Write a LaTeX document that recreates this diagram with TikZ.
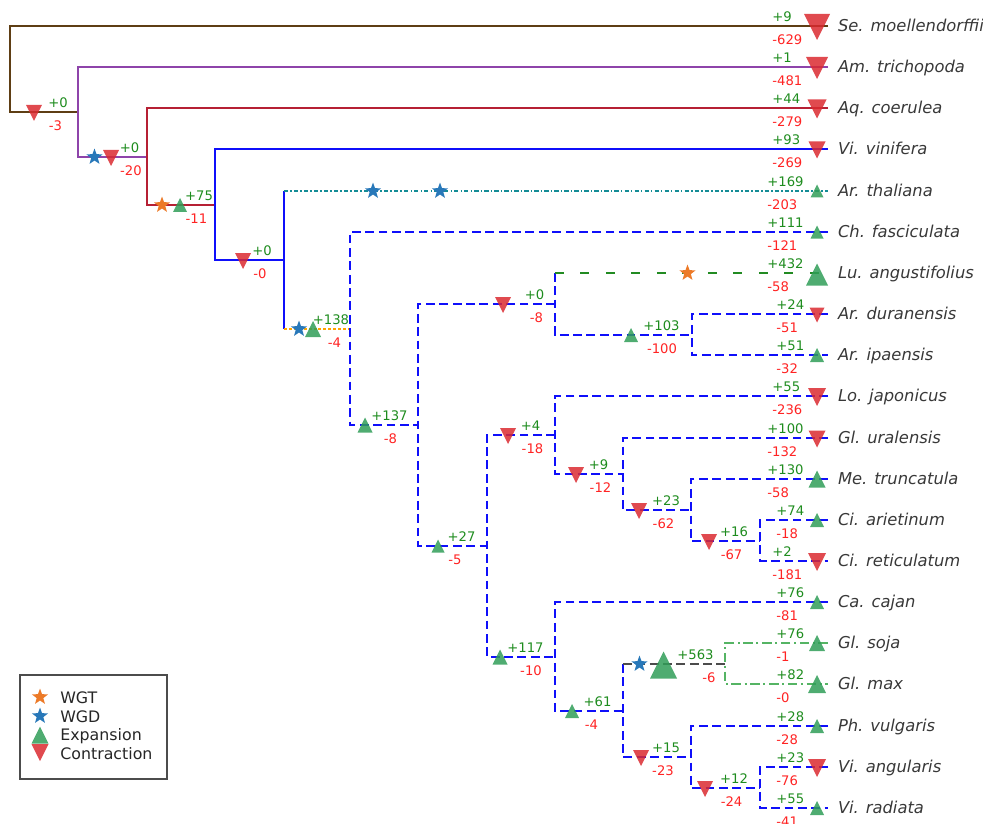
\documentclass[tikz,border=0pt]{standalone}
\usepackage{fontspec}
\setmainfont{DejaVu Sans}
\usepackage{tikz}
\usetikzlibrary{shapes.geometric}
\definecolor{rootbrown}{RGB}{94,62,20}
\definecolor{amborpurple}{RGB}{142,68,170}
\definecolor{aquired}{RGB}{182,32,52}
\definecolor{treeblue}{RGB}{15,15,250}
\definecolor{thalteal}{RGB}{20,140,150}
\definecolor{dashorange}{RGB}{255,165,0}
\definecolor{lupgreen}{RGB}{34,139,34}
\definecolor{glygreen}{RGB}{85,180,100}
\definecolor{wgtorange}{RGB}{236,122,40}
\definecolor{wgdblue}{RGB}{40,120,185}
\definecolor{expgreen}{RGB}{48,158,88}
\definecolor{congred}{RGB}{218,42,48}
\definecolor{gaintext}{RGB}{30,140,30}
\definecolor{losstext}{RGB}{255,35,35}

\tikzset{
  branch/.style={line width=1.134pt},
  rootline/.style={branch, draw=rootbrown},
  amboline/.style={branch, draw=amborpurple},
  aqline/.style={branch, draw=aquired},
  vitline/.style={branch, draw=treeblue},
  thalline/.style={branch, draw=thalteal, dash pattern=on 2.4pt off 1.2pt on 0.9pt off 1.2pt},
  orangeline/.style={branch, draw=dashorange, dash pattern=on 1.7pt off 1.1pt},
  fabline/.style={branch, draw=treeblue, dash pattern=on 5pt off 2.6pt},
  lupline/.style={branch, draw=lupgreen, dash pattern=on 5pt off 9.5pt},
  grayline/.style={branch, draw=black!70, dash pattern=on 5pt off 2.6pt},
  glyline/.style={branch, draw=glygreen, dash pattern=on 5.5pt off 2pt on 1.2pt off 2pt},
  taxon/.style={anchor=west, inner xsep=5.5pt, inner ysep=0pt, text height=1.6ex,
                text depth=.4ex, font=\fontsize{9.3}{11}\selectfont\itshape, text=black!78},
  gain/.style={inner sep=0pt, text=gaintext, font=\fontsize{7.5}{8}\selectfont},
  loss/.style={inner sep=0pt, text=losstext, font=\fontsize{7.5}{8}\selectfont},
  wgd/.style={star, star points=5, star point ratio=2.4, minimum size=9.6pt,
              inner sep=0pt, fill=wgdblue},
  wgt/.style={wgd, fill=wgtorange},
  legtext/.style={anchor=base west, inner sep=0pt, font=\fontsize{9}{10}\selectfont, text=black!85},
  legframe/.style={draw=black!70, line width=.6pt},
  pics/upmark/.style={code={\fill[expgreen, fill opacity=.85] (-#1,#1) -- (#1,#1) -- (0,-#1) -- cycle;}},
  pics/downmark/.style={code={\fill[congred, fill opacity=.85] (-#1,-#1) -- (#1,-#1) -- (0,#1) -- cycle;}}
}

\begin{document}
\begin{tikzpicture}[x=0.02cm, y=-0.02cm]
  \useasboundingbox (0,0) rectangle (983,824);

  % leaves with their gain / loss counts
  \foreach \tx/\y/\x/\gn/\ls/\taxname in {
      Smoe/26/772/+9/-629/Se. moellendorffii,
      Atri/67/772/+1/-481/Am. trichopoda,
      Acoe/108/772/+44/-279/Aq. coerulea,
      Vvin/149/772/+93/-269/Vi. vinifera,
      Atha/191/767/+169/-203/Ar. thaliana,
      Cfas/232/767/+111/-121/Ch. fasciculata,
      Lang/273/767/+432/-58/Lu. angustifolius,
      Adur/314/776/+24/-51/Ar. duranensis,
      Aipa/355/776/+51/-32/Ar. ipaensis,
      Ljap/396/772/+55/-236/Lo. japonicus,
      Gura/438/767/+100/-132/Gl. uralensis,
      Mtru/479/767/+130/-58/Me. truncatula,
      Cari/520/776/+74/-18/Ci. arietinum,
      Cret/561/772/+2/-181/Ci. reticulatum,
      Ccaj/602/776/+76/-81/Ca. cajan,
      Gsoj/643/776/+76/-1/Gl. soja,
      Gmax/684/776/+82/-0/Gl. max,
      Pvul/726/776/+28/-28/Ph. vulgaris,
      Vang/767/776/+23/-76/Vi. angularis,
      Vrad/808/776/+55/-41/Vi. radiata} {
    \node[taxon] (t\tx) at (828,\y) {\taxname};
    \node[gain, anchor=west] (g\tx) at (\x,\y-9.5) {\gn};
    \node[loss, anchor=west] (l\tx) at (\x,\y+13.5) {\ls};
  }

  % internal nodes
  \coordinate (n1) at (10,69);
  \coordinate (n2) at (78,112);
  \coordinate (n3) at (147,157);
  \coordinate (n4) at (215,205);
  \coordinate (n5) at (284,260);
  \coordinate (n6) at (350,329);
  \coordinate (n7) at (418,425);
  \coordinate (n8) at (555,304);
  \coordinate (n9) at (692,335);
  \coordinate (n10) at (487,546);
  \coordinate (n11) at (555,435);
  \coordinate (n12) at (623,474);
  \coordinate (n13) at (691,510);
  \coordinate (n14) at (760,541);
  \coordinate (n15) at (555,657);
  \coordinate (n16) at (623,711);
  \coordinate (n17) at (725,664);
  \coordinate (n18) at (691,757);
  \coordinate (n19) at (760,788);

  % branches
  \draw[rootline] (tSmoe.west) -| (n1) |- (n2);
  \draw[amboline] (tAtri.west) -| (n2) |- (n3);
  \draw[aqline] (tAcoe.west) -| (n3) |- (n4);
  \draw[vitline] (tVvin.west) -| (n4) |- (n5);
  \draw[vitline] (n5 |- tAtha.west) -- (n5 |- n6);
  \draw[thalline] (n5 |- tAtha.west) -- (tAtha.west);
  \draw[orangeline] (n5 |- n6) -- (n6);
  \draw[fabline] (tCfas.west) -| (n6) |- (n7);
  \draw[fabline] (n8) -| (n7) |- (n10);
  \draw[fabline] (n8 |- tLang.west) -- (n8 |- n9) -- (n9);
  \draw[lupline] (n8 |- tLang.west) -- (tLang.west);
  \draw[fabline] (tAdur.west) -| (n9) |- (tAipa.west);
  \draw[fabline] (n11) -| (n10) |- (n15);
  \draw[fabline] (tLjap.west) -| (n11) |- (n12);
  \draw[fabline] (tGura.west) -| (n12) |- (n13);
  \draw[fabline] (tMtru.west) -| (n13) |- (n14);
  \draw[fabline] (tCari.west) -| (n14) |- (tCret.west);
  \draw[fabline] (tCcaj.west) -| (n15) |- (n16);
  \draw[fabline] (n16 |- n17) -- (n16 |- n18) -- (n18);
  \draw[grayline] (n16 |- n17) -- (n17);
  \draw[glyline] (tGsoj.west) -| (n17) |- (tGmax.west);
  \draw[fabline] (tPvul.west) -| (n18) |- (n19);
  \draw[fabline] (tVang.west) -| (n19) |- (tVrad.west);

  % expansions and contractions
  \foreach \x/\y/\s in {34/113/8, 111/158/8, 243/261/8, 503/305/8, 508/436/8,
      576/475/8, 639/511/8, 709/542/8, 641/758/8, 705/789/8,
      817/27/13, 817/68/11, 817/109/9.5, 817/150/8.5, 817/315/7.5, 817/397/9,
      817/439/8.5, 817/562/9, 817/768/9}
    \pic at (\x,\y) {downmark=\s};
  \foreach \x/\y/\s in {180/205/7, 313/329/8, 365/425/7.5, 438/546/6.5,
      631/335/7, 500/657/7.5, 572/711/7, 663.5/665/13.5,
      817/191/6.5, 817/232/6.5, 817/274.5/11, 817/355/7, 817/479/8.5, 817/520/7,
      817/602/7, 817/643/8, 817/684/9, 817/726/7, 817/808/7}
    \pic at (\x,\y) {upmark=\s};

  % duplications and triplications
  \node[wgd] (wgd1) at (94.5,157) {};
  \node[wgd] (wgd2) at (373,191) {};
  \node[wgd] (wgd3) at (440,191) {};
  \node[wgd] (wgd4) at (299,329) {};
  \node[wgd] (wgd5) at (639.5,664) {};
  \node[wgt] (wgt1) at (162,205) {};
  \node[wgt] (wgt2) at (687.5,273) {};

  % counts on internal branches
  \foreach \n/\y/\gx/\gn/\lx/\ls in {
      2/112/58/+0/55.5/-3, 3/157/129.5/+0/131/-20, 4/205/199/+75/196.5/-11,
      5/260/262/+0/260/-0, 6/329/331/+138/334.5/-4, 7/425/389.5/+137/390.5/-8,
      8/304/534.5/+0/536.5/-8, 9/335/661.5/+103/662/-100, 10/546/461.5/+27/455/-5,
      11/435/530.5/+4/532.5/-18, 12/474/598.5/+9/600.5/-12, 13/510/666/+23/663.5/-62,
      14/541/734/+16/731.5/-67, 15/657/525.5/+117/531/-10, 16/711/597.5/+61/591.5/-4,
      17/664/695.5/+563/709/-6, 18/757/666/+15/663/-23, 19/788/734/+12/731.5/-24} {
    \node[gain] (g\n) at (\gx,\y-9.5) {\gn};
    \node[loss] (l\n) at (\lx,\y+13.5) {\ls};
  }

  % legend
  \draw[legframe] (20,675) rectangle (167,779);
  \node[wgt] (legwgt) at (40,697) {};
  \node[legtext] (txwgt) at (60,703) {WGT};
  \node[wgd] (legwgd) at (40,716) {};
  \node[legtext] (txwgd) at (60,722) {WGD};
  \pic at (40,735) {upmark=8.5};
  \node[legtext] (txexp) at (60,740) {Expansion};
  \pic at (40,752.5) {downmark=8.5};
  \node[legtext] (txcon) at (60,759) {Contraction};
\end{tikzpicture}
\end{document}
